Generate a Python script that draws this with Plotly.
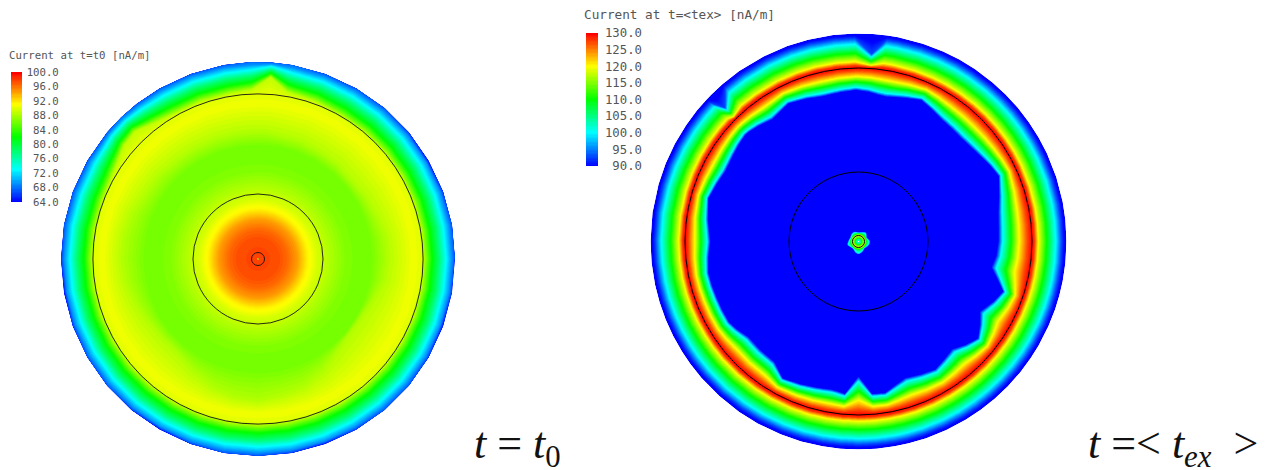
import numpy as np
import plotly.graph_objects as go

W, H = 1277, 470
JET = [[0, "#0000ff"], [0.25, "#00ffff"], [0.5, "#00ff00"], [0.75, "#ffff00"], [1, "#ff0000"]]

# ---- left panel (t = t0), values in nA/m, radii as fraction of the disc radius
L_ANGLES = [0,10,20,30,40,50,60,70,80,86,92,100,110,120,128,134,140,150,160,170,180,190,200,210,220,230,240,250,260,270,280,290,300,310,320,330,340,350]
L_YELLOW_IN = [.66,.66,.64,.63,.62,.63,.63,.64,.64,.65,.65,.65,.65,.65,.65,.65,.66,.66,.68,.69,.69,.68,.66,.64,.63,.63,.66,.69,.71,.72,.70,.69,.66,.62,.60,.60,.62,.65]
L_YELLOW_OUT = [.84,.84,.84,.84,.84,.84,.84,.85,.86,.925,.86,.85,.85,.85,.87,.90,.89,.85,.84,.84,.84,.84,.84,.84,.84,.84,.84,.84,.84,.84,.84,.84,.84,.84,.84,.84,.84,.84]
L_RIM = [67,67,66,64,66,67,67,67,68,68,68,67,67,67,67,68,67,67,67,67,66,64,66,67,67,66,64,66,67,67,66,64,66,67,67,66,64,66]
L_INNER_R = [.005,.05,.10,.15,.20,.25,.30,.35,.45,.50,.58]
L_INNER_Z = [97.6,97.5,97.4,96.3,94.5,91.5,89.6,88.5,86.5,86.2,86.3]
L_MID_R = [.78,.83]
L_MID_Z = [90.4,90.2]
L_EDGE_Z = [88.3]      # at the inner yellow edge
L_BAND_FRAC = [0,.28,.5,.72,.906]
L_BAND_Z = [88.8,82,78,73,69]
L_RINGS = [.0330,.330,.838]
L_TICKS = [100,96,92,88,84,80,76,72,68,64]
L_TICKTEXT = ["100.0","\u00a096.0","\u00a092.0","\u00a088.0","\u00a084.0","\u00a080.0","\u00a076.0","\u00a072.0","\u00a068.0","\u00a064.0"]
L_MIN, L_MAX = 64, 100

# ---- right panel (t = <tex>)
R_ANGLES = [0,6,11,18,25,30,35,40,45,50,56,61,66,72,79,82,86,91,97,104,110,117,125,131,135,137,141,146,152,158,164,172,180,186,192,197,202,207,212,216,221,228,235,241,248,254,260,265,270,275,280,284,289,295,301,306,311,316,321,326,330,336,341,345,349,354]
R_BLUE_EDGE = [.672,.676,.684,.71,.744,.73,.715,.705,.70,.703,.71,.726,.744,.725,.708,.71,.72,.728,.722,.718,.73,.744,.718,.735,.745,.747,.74,.73,.723,.735,.75,.73,.712,.725,.737,.735,.733,.733,.733,.72,.70,.703,.706,.752,.74,.73,.723,.735,.648,.735,.739,.715,.693,.705,.717,.70,.686,.715,.74,.705,.674,.71,.736,.69,.651,.665]
R_CORE_EDGE = [.051,.048,.045,.042,.04,.041,.043,.046,.049,.051,.049,.047,.045,.043,.041,.04,.04,.04,.041,.043,.045,.047,.046,.045,.044,.043,.042,.041,.04,.04,.041,.043,.045,.047,.05,.051,.049,.046,.044,.042,.041,.04,.04,.042,.046,.05,.053,.055,.056,.055,.053,.051,.049,.046,.043,.041,.04,.04,.041,.043,.044,.046,.048,.049,.05,.05]
R_OUTER_BLUE_DEFAULT = .975
R_OUTER_NOTCH = {86: .90, 135: .905}
R_CORE_R = [.004,.012,.020,.029,.036]
R_CORE_Z = [101,105,113,119,110]
R_CORE_EDGE_Z = [99]
R_CORE_OUT_Z = [89]
R_BLUE_Z = [89]
R_INNER_FRAC = [0,.13,.38,.62,.86]
R_INNER_Z = [90,100,110,120,127]
R_RING_R = [.834]
R_RING_Z = [130]
R_OUTER_FRAC = [.08,.21,.50,.81,1]
R_OUTER_Z = [128,120,110,100,93]
R_RIM_Z = [88]
R_RINGS = [.029,.334,.834]
R_TICKS = [130,125,120,115,110,105,100,95,90]
R_TICKTEXT = ["130.0","125.0","120.0","115.0","110.0","105.0","100.0","\u00a095.0","\u00a090.0"]
R_MIN, R_MAX = 90, 130

L_TITLE = "Current at t=t0 [nA/m]"
R_TITLE = "Current at t=<tex> [nA/m]"
NB = "\u00a0"
L_LABEL = f"<i>t</i>{NB}={NB}<i>t</i><sub>0</sub>"
R_LABEL = f"<i>t</i>{NB}=&lt;{NB}<i>t</i><sub><i>ex</i></sub>{NB}{NB}&gt;"


def closed(a):
    a = np.asarray(a, float)
    return np.append(a, a[0])


def left_mesh():
    ang = closed(L_ANGLES); ang[-1] = 360
    yi, yo, rim = closed(L_YELLOW_IN), closed(L_YELLOW_OUT), closed(L_RIM)
    rows_r, rows_z = [], []
    for k in range(len(ang)):
        r = L_INNER_R + [yi[k]] + L_MID_R + [yo[k] + f * (1 - yo[k]) for f in L_BAND_FRAC] + [1.0]
        z = L_INNER_Z + L_EDGE_Z + L_MID_Z + L_BAND_Z + [rim[k]]
        rows_r.append(r); rows_z.append(z)
    return ang, np.array(rows_r), np.array(rows_z)


def right_mesh():
    assert len(R_ANGLES) == len(R_BLUE_EDGE) == len(R_CORE_EDGE)
    ang = closed(R_ANGLES); ang[-1] = 360
    be, ce = closed(R_BLUE_EDGE), closed(R_CORE_EDGE)
    ob = closed([R_OUTER_NOTCH.get(t, R_OUTER_BLUE_DEFAULT) for t in R_ANGLES])
    ring = R_RING_R[0]
    rows_r, rows_z = [], []
    for k in range(len(ang)):
        r = (R_CORE_R + [ce[k], ce[k] + .006, be[k] - .006]
             + [be[k] + f * (ring - be[k]) for f in R_INNER_FRAC] + [ring]
             + [ring + f * (ob[k] - ring) for f in R_OUTER_FRAC] + [1.0])
        z = R_CORE_Z + R_CORE_EDGE_Z + R_CORE_OUT_Z + R_BLUE_Z + R_INNER_Z + R_RING_Z + R_OUTER_Z + R_RIM_Z
        rows_r.append(r); rows_z.append(z)
    return ang, np.array(rows_r), np.array(rows_z)


AXIS_OFF = dict(showgrid=False, showticklabels="none", showline=False, startline=False,
                endline=False, minorgridcount=0, smoothing=0)

fig = go.Figure()


def add_panel(mesh, cid, xa, ya, vmin, vmax, ticks, ticktext, bar_x, bar_top, bar_len, fs, thick, gap):
    ang, rr, zz = mesh
    th = np.radians(ang)[:, None]
    x = rr * np.cos(th)
    y = rr * np.sin(th)
    a = list(range(rr.shape[1]))
    b = list(range(rr.shape[0]))
    fig.add_trace(go.Carpet(carpet=cid, a=a, b=b, x=x, y=y, xaxis=xa, yaxis=ya,
                            aaxis=AXIS_OFF, baxis=AXIS_OFF))
    fig.add_trace(go.Contourcarpet(
        carpet=cid, a=a, b=b, z=zz, xaxis=xa, yaxis=ya,
        colorscale=JET, zmin=vmin, zmax=vmax, autocontour=False,
        contours=dict(start=vmin, end=vmax, size=(vmax - vmin) / 100, coloring="fill", showlines=False),
        line=dict(width=0, smoothing=0),
        colorbar=dict(x=bar_x / W, xanchor="left", xpad=0, y=1 - bar_top / H, yanchor="top", ypad=0,
                      len=bar_len, lenmode="pixels", thickness=thick, thicknessmode="pixels",
                      outlinewidth=0, borderwidth=0, ticks="outside", ticklen=gap, tickcolor="rgba(0,0,0,0)",
                      tickmode="array", tickvals=ticks, ticktext=ticktext,
                      tickfont=dict(family="DejaVu Sans Mono", size=fs, color="#555555")),
    ))


add_panel(left_mesh(), "L", "x", "y", L_MIN, L_MAX, L_TICKS, L_TICKTEXT, 11, 72, 130, 10.7, 11, 3)
add_panel(right_mesh(), "R", "x2", "y2", R_MIN, R_MAX, R_TICKS, R_TICKTEXT, 586, 33, 133, 12.3, 12, 5)

shapes = []
for r in L_RINGS:
    shapes.append(dict(type="circle", xref="x", yref="y", x0=-r, x1=r, y0=-r, y1=r, line=dict(color="#111111", width=0.9)))
for r in R_RINGS:
    shapes.append(dict(type="circle", xref="x2", yref="y2", x0=-r, x1=r, y0=-r, y1=r, line=dict(color="#000000", width=1)))


def dom(c, R, size):
    return [(c - R) / size, (c + R) / size]


off = dict(visible=False, range=[-1, 1], fixedrange=True)
fig.update_layout(
    width=W, height=H, margin=dict(l=0, r=0, t=0, b=0), paper_bgcolor="white", plot_bgcolor="white",
    showlegend=False, shapes=shapes,
    xaxis=dict(off, domain=dom(258, 197, W)),
    yaxis=dict(off, domain=dom(H - 259, 197, H)),
    xaxis2=dict(off, domain=dom(858.5, 208, W)),
    yaxis2=dict(off, domain=dom(H - 241.5, 208, H)),
    annotations=[
        dict(text=L_TITLE, xref="paper", yref="paper", x=7 / W, y=1 - 56 / H, xanchor="left", yanchor="middle",
             showarrow=False, font=dict(family="DejaVu Sans Mono", size=10.7, color="#555555")),
        dict(text=R_TITLE, xref="paper", yref="paper", x=582 / W, y=1 - 14 / H, xanchor="left", yanchor="middle",
             showarrow=False, font=dict(family="DejaVu Sans Mono", size=12.7, color="#555555")),
        dict(text=L_LABEL, xref="paper", yref="paper", x=472 / W, y=1 - 446 / H, xanchor="left", yanchor="middle",
             showarrow=False, font=dict(family="Liberation Serif", size=44, color="#111111")),
        dict(text=R_LABEL, xref="paper", yref="paper", x=1086 / W, y=1 - 446 / H, xanchor="left", yanchor="middle",
             showarrow=False, font=dict(family="Liberation Serif", size=44, color="#111111")),
    ],
)

fig.write_html("out.html", post_script="document.body.style.margin='0';", config=dict(displayModeBar=False))
